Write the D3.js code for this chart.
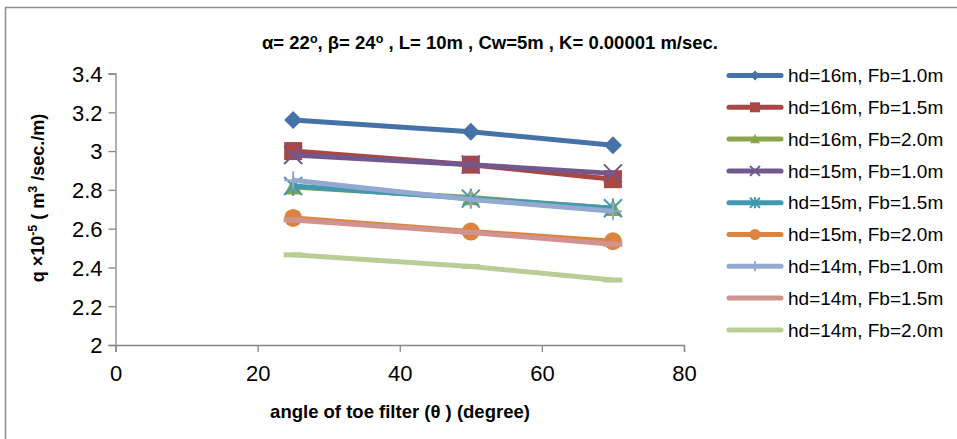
<!DOCTYPE html>
<html><head><meta charset="utf-8">
<script src="https://cdn.jsdelivr.net/npm/d3@7"></script>
<style>body{margin:0;background:#fff}svg{display:block}</style>
</head><body>
<svg id="c" width="957" height="439"></svg>
<script>
const angles = [25, 50, 70];
const seriesNames = ["hd=16m, Fb=1.0m","hd=16m, Fb=1.5m","hd=16m, Fb=2.0m","hd=15m, Fb=1.0m","hd=15m, Fb=1.5m","hd=15m, Fb=2.0m","hd=14m, Fb=1.0m","hd=14m, Fb=1.5m","hd=14m, Fb=2.0m"];
const s1 = [3.16, 3.10, 3.03];
const s2 = [3.00, 2.93, 2.855];
const s3 = [2.815, 2.76, 2.705];
const s4 = [2.98, 2.93, 2.885];
const s5 = [2.82, 2.755, 2.705];
const s6 = [2.655, 2.585, 2.535];
const s7 = [2.85, 2.75, 2.69];
const s8 = [2.645, 2.58, 2.52];
const s9 = [2.465, 2.405, 2.335];
const seriesValues = [s1,s2,s3,s4,s5,s6,s7,s8,s9];
const colors = ["#4572A7","#AA4643","#89A54E","#71588F","#4198AF","#DB843D","#93A9CF","#D19392","#B9CD96"];
const markers = ["diamond","square","triangle","x","star","circle","plus","dash","dash"];
const xTicks = [0,20,40,60,80];
const yTicks = [2,2.2,2.4,2.6,2.8,3,3.2,3.4];

const svg = d3.select("#c");
const FONT = "'Liberation Sans', Arial, sans-serif";
// frame
svg.append("rect").attr("x",5.5).attr("y",7.5).attr("width",960).attr("height",440)
  .attr("fill","#fff").attr("stroke","#8c8c8c").attr("stroke-width",1.5);

const x = d3.scaleLinear().domain([0,80]).range([115.5,684]);
const y = d3.scaleLinear().domain([2,3.4]).range([345,73.5]);

const gx = svg.append("g").attr("transform","translate(0,345)")
  .call(d3.axisBottom(x).tickValues(xTicks).tickSize(7).tickPadding(13).tickFormat(d3.format("d")));
const gy = svg.append("g").attr("transform","translate(115.5,0)")
  .call(d3.axisLeft(y).tickValues(yTicks).tickSize(7).tickPadding(6).tickFormat(d=>String(+d.toFixed(1))));
[gx,gy].forEach(g=>{
  g.select(".domain").attr("stroke","#868686").attr("stroke-width",1.3);
  g.selectAll(".tick line").attr("stroke","#868686").attr("stroke-width",1.3);
  g.selectAll(".tick text").attr("fill","#000").style("font-family",FONT).style("font-size","22px");
});
gy.selectAll(".tick text").attr("dy","0.36em");

function markerPath(type, s){
  const h=s/2;
  switch(type){
    case "diamond": return `M0,${-h}L${h},0L0,${h}L${-h},0Z`;
    case "square": return `M${-h},${-h}H${h}V${h}H${-h}Z`;
    case "triangle": return `M0,${-h}L${h},${h*0.85}L${-h},${h*0.85}Z`;
    case "x": return `M${-h},${-h}L${h},${h}M${h},${-h}L${-h},${h}`;
    case "star": return `M${-h},${-h}L${h},${h}M${h},${-h}L${-h},${h}M0,${-h*1.1}V${h*1.1}`;
    case "plus": return `M0,${-h}V${h}M${-h},0H${h}`;
    case "dash": return `M${-h},${-2.5}H${h}V2.5H${-h}Z`;
  }
}
function drawMarker(g, type, color, s){
  if(type==="circle"){
    g.append("circle").attr("r",s/2).attr("fill",color);
  } else if(type==="x"||type==="star"||type==="plus"){
    g.append("path").attr("d",markerPath(type,s)).attr("fill","none").attr("stroke",color).attr("stroke-width",2);
  } else {
    g.append("path").attr("d",markerPath(type,s)).attr("fill",color);
  }
}

const line = d3.line().x(d=>x(d[0])).y(d=>y(d[1]));
seriesValues.forEach((vals,i)=>{
  const pts = angles.map((a,j)=>[a,vals[j]]);
  const g = svg.append("g");
  g.append("path").attr("d",line(pts)).attr("fill","none").attr("stroke",colors[i])
    .attr("stroke-width",5).attr("stroke-linejoin","round");
  pts.forEach(p=>{
    const mg = g.append("g").attr("transform",`translate(${x(p[0])},${y(p[1])})`);
    drawMarker(mg, markers[i], colors[i], markers[i]==="dash"?19:18);
  });
});

// legend
const leg = svg.append("g");
seriesNames.forEach((n,i)=>{
  const yy = 75.5 + i*31.8;
  const g = leg.append("g").attr("transform",`translate(0,${yy})`);
  g.append("line").attr("x1",729).attr("x2",781).attr("stroke",colors[i]).attr("stroke-width",5).attr("stroke-linecap","round");
  const mg = g.append("g").attr("transform","translate(755,0)");
  if(markers[i]!=="dash") drawMarker(mg, markers[i], colors[i], markers[i]==="circle"?11:10);
  g.append("text").attr("x",788).attr("y",0).attr("dy","0.35em").text(n)
    .style("font-family",FONT).style("font-size","19px").attr("fill","#000");
});

// title
const t = svg.append("text").attr("x",490).attr("y",49).attr("text-anchor","middle")
  .style("font-family",FONT).style("font-size","18.5px").style("font-weight","bold");
t.append("tspan").text("α= 22");
t.append("tspan").text("o").attr("dy","-6").style("font-size","12.5px");
t.append("tspan").text(", β= 24").attr("dy","6");
t.append("tspan").text("o").attr("dy","-6").style("font-size","12.5px");
t.append("tspan").text(" , L= 10m , Cw=5m   , K= 0.00001 m/sec.").attr("dy","6");

// x title
svg.append("text").attr("x",400).attr("y",418).attr("text-anchor","middle")
  .style("font-family",FONT).style("font-size","18.5px").style("font-weight","bold")
  .text("angle of toe filter (θ ) (degree)");

// y title
const yt = svg.append("text").attr("transform","translate(44,198) rotate(-90)").attr("text-anchor","middle")
  .style("font-family",FONT).style("font-size","18px").style("font-weight","bold");
yt.append("tspan").text("q ×10");
yt.append("tspan").text("-5").attr("dy","-7").style("font-size","12.5px");
yt.append("tspan").text(" ( m").attr("dy","7");
yt.append("tspan").text("3").attr("dy","-7").style("font-size","12.5px");
yt.append("tspan").text(" /sec./m)").attr("dy","7");
</script>
</body></html>
